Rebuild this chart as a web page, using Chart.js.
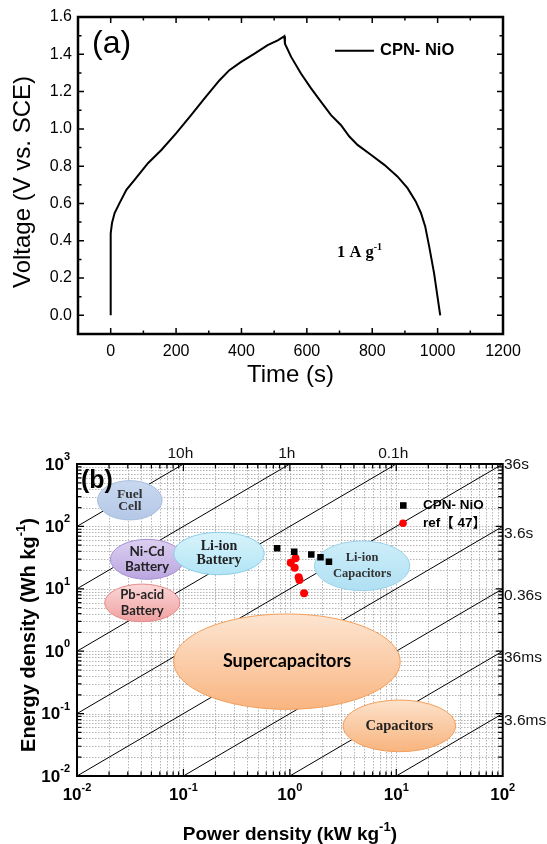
<!DOCTYPE html>
<html>
<head>
<meta charset="utf-8">
<script src="https://cdn.jsdelivr.net/npm/chart.js@4.4.1/dist/chart.umd.min.js"></script>
<style>
  html, body { margin: 0; padding: 0; background: #fff; }
  #wrap { position: relative; width: 547px; height: 844px; overflow: hidden; }
  canvas { position: absolute; left: 0; }
  #chartA { top: 0; }
  #chartB { top: 440px; }
</style>
</head>
<body>
<div id="wrap">
  <canvas id="chartA" width="547" height="400"></canvas>
  <canvas id="chartB" width="547" height="404"></canvas>
</div>
<script>
// (a) charge / discharge curve at 1 A/g
const timeS = [0, 0, 4, 12, 27, 48, 73, 114, 155, 200, 246, 287, 333, 363, 399, 440, 480, 511, 528, 531,
  533, 552, 582, 613, 643, 674, 704, 730, 755, 796, 837, 877, 908, 933, 949, 962, 974, 989, 1008];
const voltage = [0, 0.44, 0.495, 0.549, 0.602, 0.673, 0.727, 0.816, 0.887, 0.976, 1.074, 1.163, 1.261, 1.315, 1.359, 1.404, 1.449, 1.475, 1.493, 1.497,
  1.457, 1.386, 1.297, 1.217, 1.146, 1.074, 1.021, 0.959, 0.914, 0.861, 0.807, 0.745, 0.682, 0.611, 0.549, 0.477, 0.371, 0.228, 0];
const timeTicks = [0, 200, 400, 600, 800, 1000, 1200];
const voltTicks = [0, 0.2, 0.4, 0.6, 0.8, 1.0, 1.2, 1.4, 1.6];

// (b) Ragone plot
const cpnPower = [0.76, 1.10, 1.59, 1.94, 2.33];
const cpnEnergy = [44.6, 39.4, 35.3, 32.0, 27.2];
const refPower = [1.13, 1.02, 1.11, 1.21, 1.23, 1.36];
const refEnergy = [30.8, 26.2, 21.8, 15.3, 13.8, 8.5];
const powerExp = [-2, -1, 0, 1, 2];
const energyExp = [-2, -1, 0, 1, 2, 3];
// constant discharge-time lines (hours) and their labels
const lineHours = [10, 1, 0.1, 0.01, 0.001, 0.0001, 0.00001, 0.000001];
const lineLabels = ['10h', '1h', '0.1h', '36s', '3.6s', '0.36s', '36ms', '3.6ms'];
// device regions: name, power range (kW/kg), energy range (Wh/kg)
const regionNames = [['Fuel', 'Cell'], ['Ni-Cd', 'Battery'], ['Pb-acid', 'Battery'], ['Li-ion', 'Battery'],
  ['Li-ion', 'Capacitors'], ['Supercapacitors'], ['Capacitors']];
const regionPower = [[0.0156, 0.063], [0.0206, 0.1007], [0.0182, 0.0923], [0.0811, 0.575], [1.70, 13.4], [0.081, 10.9], [3.16, 36.2]];
const regionEnergy = [[127, 541], [14.2, 62], [2.97, 11.9], [16.8, 80.4], [9.33, 58.3], [0.117, 3.95], [0.0245, 0.165]];

const SANS = "'Liberation Sans', Arial, sans-serif";
const SERIF = "'Liberation Serif', 'Times New Roman', serif";
const CAL = "Lato, 'Liberation Sans', sans-serif";
const CJK = "'Liberation Sans', 'Noto Sans CJK SC', sans-serif";

// region looks: fill top, fill bottom, stroke, font, line gap
const regionLook = [
  ['#c9d8ef', '#b4c8e7', '#a6bcdf', 'bold 13.5px ' + SERIF, 12.5, '#333'],
  ['#dcd0f1', '#bba6e0', '#a790d3', 'bold 13.5px ' + CAL, 15.5, '#222'],
  ['#fbd8d8', '#f0a0a0', '#e68b8b', 'bold 13px ' + CAL, 15.5, '#222'],
  ['#d8f3fb', '#b2e5f6', '#8ccfe9', 'bold 14px ' + SERIF, 14.5, '#222'],
  ['#cdeef9', '#b0e0f3', '#9bd2ea', 'bold 12.5px ' + SERIF, 16, '#333'],
  ['#fde5d1', '#f9b581', '#f29f5c', 'bold 18px ' + CAL, 0, '#000'],
  ['#fde2cb', '#f8b47e', '#f29f5c', 'bold 14.5px ' + SERIF, 0, '#222']
];

// draw text pieces one after another (for superscripts)
function runs(ctx, x, y, parts, align) {
  let w = 0;
  parts.forEach(p => { ctx.font = p.f; p.w = ctx.measureText(p.t).width; w += p.w; });
  let cx = align === 'center' ? x - w / 2 : align === 'right' ? x - w : x;
  ctx.textAlign = 'left';
  ctx.textBaseline = 'middle';
  parts.forEach(p => { ctx.font = p.f; ctx.fillText(p.t, cx, y + (p.dy || 0)); cx += p.w; });
}

function inwardTicks(ctx, a, xs, ys, len) {
  ctx.beginPath();
  xs.forEach(px => {
    ctx.moveTo(px, a.bottom); ctx.lineTo(px, a.bottom - len);
    ctx.moveTo(px, a.top); ctx.lineTo(px, a.top + len);
  });
  ys.forEach(py => {
    ctx.moveTo(a.left, py); ctx.lineTo(a.left + len, py);
    ctx.moveTo(a.right, py); ctx.lineTo(a.right - len, py);
  });
  ctx.stroke();
}

function mids(arr) {
  const out = [];
  for (let i = 1; i < arr.length; i++) out.push((arr[i] + arr[i - 1]) / 2);
  return out;
}

// ---------- chart (a) ----------
const decorA = {
  id: 'decorA',
  afterDraw(chart) {
    const { ctx, chartArea: a, scales: { x, y } } = chart;
    ctx.save();
    ctx.strokeStyle = '#000';
    ctx.lineWidth = 1.5;
    inwardTicks(ctx, a, timeTicks.map(v => x.getPixelForValue(v)), voltTicks.map(v => y.getPixelForValue(v)), 6);
    inwardTicks(ctx, a, mids(timeTicks).map(v => x.getPixelForValue(v)), mids(voltTicks).map(v => y.getPixelForValue(v)), 3.5);
    ctx.lineWidth = 2.5;
    ctx.strokeRect(a.left, a.top, a.right - a.left, a.bottom - a.top);

    ctx.fillStyle = '#000';
    // axis titles
    runs(ctx, (a.left + a.right) / 2, 375, [{ t: 'Time (s)', f: '24px ' + SANS }], 'center');
    ctx.save();
    ctx.translate(23, 182);
    ctx.rotate(-Math.PI / 2);
    runs(ctx, 0, 0, [{ t: 'Voltage (V vs. SCE)', f: '24px ' + SANS }], 'center');
    ctx.restore();
    // panel tag
    runs(ctx, 92, 44, [{ t: '(a)', f: '32px ' + SANS }], 'left');
    // legend
    ctx.lineWidth = 2;
    ctx.beginPath(); ctx.moveTo(335, 50.7); ctx.lineTo(374, 50.7); ctx.stroke();
    runs(ctx, 380, 50.7, [{ t: chart.data.datasets[0].label, f: 'bold 16.5px ' + SANS }], 'left');
    // current density note
    runs(ctx, 337, 253, [{ t: '1 A g', f: 'bold 16.5px ' + SERIF }, { t: '-1', f: 'bold 10px ' + SERIF, dy: -6 }], 'left');
    ctx.restore();
  }
};

new Chart(document.getElementById('chartA'), {
  type: 'line',
  data: {
    datasets: [{
      label: 'CPN- NiO',
      data: timeS.map((t, i) => ({ x: t, y: voltage[i] })),
      borderColor: '#000',
      borderWidth: 2,
      pointRadius: 0,
      tension: 0,
      fill: false
    }]
  },
  options: {
    responsive: false,
    animation: false,
    layout: { padding: { top: 17, right: 44, left: 0, bottom: 0 } },
    plugins: { legend: { display: false }, tooltip: { enabled: false } },
    scales: {
      x: {
        type: 'linear', min: -100, max: 1200,
        afterBuildTicks: s => { s.ticks = timeTicks.map(v => ({ value: v })); },
        afterFit: s => { s.height = 66; },
        grid: { display: false, drawTicks: false },
        border: { display: false },
        ticks: { font: { family: SANS, size: 16 }, color: '#000', padding: 8, maxRotation: 0, autoSkip: false, callback: v => String(v) }
      },
      y: {
        type: 'linear', min: -0.1, max: 1.6,
        afterBuildTicks: s => { s.ticks = voltTicks.map(v => ({ value: v })); },
        afterFit: s => { s.width = 78; },
        grid: { display: false, drawTicks: false },
        border: { display: false },
        ticks: { font: { family: SANS, size: 16 }, color: '#000', padding: 6, autoSkip: false, callback: v => v.toFixed(1) }
      }
    }
  },
  plugins: [decorA]
});

// ---------- chart (b) ----------
const minorVals = exps => {
  const out = [];
  exps.forEach(e => { for (let k = 1; k <= 9; k++) out.push({ v: k * Math.pow(10, e), major: k === 1 }); });
  return out;
};

const decorB = {
  id: 'decorB',
  beforeDatasetsDraw(chart) {
    const { ctx, chartArea: a, scales: { x, y } } = chart;
    ctx.save();
    ctx.strokeStyle = '#b4b4b4';
    ctx.lineWidth = 1;
    ctx.setLineDash([1.5, 1.5]);
    ctx.beginPath();
    minorVals(powerExp).forEach(m => {
      if (m.v <= 0.01 || m.v >= 100) return;
      const px = Math.round(x.getPixelForValue(m.v)) + 0.5;
      ctx.moveTo(px, a.top); ctx.lineTo(px, a.bottom);
    });
    minorVals(energyExp).forEach(m => {
      if (m.v <= 0.01 || m.v >= 1000) return;
      const py = Math.round(y.getPixelForValue(m.v)) + 0.5;
      ctx.moveTo(a.left, py); ctx.lineTo(a.right, py);
    });
    ctx.stroke();
    ctx.restore();
  },
  afterDatasetDraw(chart, args) {
    if (args.index !== 2) return;
    const { ctx, scales: { x, y } } = chart;
    ctx.save();
    regionNames.forEach((names, i) => {
      const [c1, c2, c3, font, gap, tc] = regionLook[i];
      const x0 = x.getPixelForValue(regionPower[i][0]), x1 = x.getPixelForValue(regionPower[i][1]);
      const y0 = y.getPixelForValue(regionEnergy[i][1]), y1 = y.getPixelForValue(regionEnergy[i][0]);
      const cx = (x0 + x1) / 2, cy = (y0 + y1) / 2;
      const g = ctx.createLinearGradient(0, y0, 0, y1);
      g.addColorStop(0, c1);
      g.addColorStop(1, c2);
      ctx.beginPath();
      ctx.ellipse(cx, cy, (x1 - x0) / 2, (y1 - y0) / 2, 0, 0, Math.PI * 2);
      ctx.fillStyle = g;
      ctx.fill();
      ctx.strokeStyle = c3;
      ctx.lineWidth = 1;
      ctx.stroke();
      ctx.fillStyle = tc;
      names.forEach((n, k) => {
        runs(ctx, cx, cy + (k - (names.length - 1) / 2) * gap, [{ t: n, f: font }], 'center');
      });
    });
    ctx.restore();
  },
  afterDraw(chart) {
    const { ctx, chartArea: a, scales: { x, y } } = chart;
    ctx.save();
    ctx.strokeStyle = '#000';
    ctx.lineWidth = 1.2;
    const px = minorVals(powerExp).filter(m => m.v > 0.01 && m.v < 100);
    const py = minorVals(energyExp).filter(m => m.v > 0.01 && m.v < 1000);
    inwardTicks(ctx, a, px.filter(m => m.major).map(m => x.getPixelForValue(m.v)), py.filter(m => m.major).map(m => y.getPixelForValue(m.v)), 7);
    inwardTicks(ctx, a, px.filter(m => !m.major).map(m => x.getPixelForValue(m.v)), py.filter(m => !m.major).map(m => y.getPixelForValue(m.v)), 4.5);
    ctx.lineWidth = 2;
    ctx.strokeRect(a.left, a.top, a.right - a.left, a.bottom - a.top);

    ctx.fillStyle = '#000';
    // decade labels
    powerExp.forEach(e => {
      runs(ctx, x.getPixelForValue(Math.pow(10, e)), 355,
        [{ t: '10', f: 'bold 17px ' + SANS }, { t: String(e), f: 'bold 11px ' + SANS, dy: -7 }], 'center');
    });
    energyExp.forEach(e => {
      runs(ctx, 70, y.getPixelForValue(Math.pow(10, e)) + 1,
        [{ t: '10', f: 'bold 17px ' + SANS }, { t: String(e), f: 'bold 11px ' + SANS, dy: -8 }], 'right');
    });
    // time-line labels: top edge or right edge
    ctx.fillStyle = '#111';
    lineHours.forEach((h, i) => {
      const pTop = 1 / h;
      if (pTop < 100) {
        runs(ctx, x.getPixelForValue(pTop) - 3, 14, [{ t: lineLabels[i], f: '15.5px ' + SANS }], 'center');
      } else {
        const yy = y.getPixelForValue(1e5 * h);
        runs(ctx, 504, yy + (yy - a.top < 2 ? 1 : 7), [{ t: lineLabels[i], f: '15.5px ' + SANS }], 'left');
      }
    });
    // axis titles
    ctx.fillStyle = '#000';
    runs(ctx, (a.left + a.right) / 2, 395, [
      { t: 'Power density (kW kg', f: 'bold 19px ' + SANS },
      { t: '-1', f: 'bold 13px ' + SANS, dy: -8 },
      { t: ')', f: 'bold 19px ' + SANS }
    ], 'center');
    ctx.save();
    ctx.translate(29, 195);
    ctx.rotate(-Math.PI / 2);
    runs(ctx, 0, 0, [
      { t: 'Energy density (Wh kg', f: 'bold 20px ' + SANS },
      { t: '-1', f: 'bold 13px ' + SANS, dy: -8 },
      { t: ')', f: 'bold 20px ' + SANS }
    ], 'center');
    ctx.restore();
    // panel tag
    runs(ctx, 81, 41, [{ t: '(b)', f: 'bold 25px ' + SANS }], 'left');
    // legend
    const ds = chart.data.datasets;
    ctx.fillStyle = ds[0].backgroundColor;
    ctx.fillRect(403.3 - 3.3, 65.5 - 3.3, 6.6, 6.6);
    ctx.fillStyle = ds[1].backgroundColor;
    ctx.beginPath(); ctx.arc(403, 83.3, 3.8, 0, Math.PI * 2); ctx.fill();
    ctx.fillStyle = '#000';
    runs(ctx, 423, 65.5, [{ t: ds[0].label, f: 'bold 13.5px ' + CJK }], 'left');
    runs(ctx, 423, 83.3, [{ t: ds[1].label, f: 'bold 13.5px ' + CJK }], 'left');
    ctx.restore();
  }
};

const timeLineSets = lineHours.map((h, i) => ({
  label: lineLabels[i],
  data: [{ x: 0.01, y: 1000 * h * 0.01 }, { x: 100, y: 1000 * h * 100 }],
  showLine: true,
  borderColor: '#000',
  borderWidth: 1,
  pointRadius: 0
}));

new Chart(document.getElementById('chartB'), {
  type: 'scatter',
  data: {
    datasets: [
      {
        label: 'CPN- NiO',
        data: cpnPower.map((p, i) => ({ x: p, y: cpnEnergy[i] })),
        pointStyle: 'rect', pointRadius: 4.6,
        backgroundColor: '#000', borderColor: '#000', borderWidth: 0
      },
      {
        label: 'ref【 47】',
        data: refPower.map((p, i) => ({ x: p, y: refEnergy[i] })),
        pointStyle: 'circle', pointRadius: 4,
        backgroundColor: '#ff0000', borderColor: '#ff0000', borderWidth: 0
      },
      ...timeLineSets
    ]
  },
  options: {
    responsive: false,
    animation: false,
    layout: { padding: { top: 24, right: 44.3, left: 0, bottom: 0 } },
    plugins: { legend: { display: false }, tooltip: { enabled: false } },
    scales: {
      x: {
        type: 'logarithmic', min: 0.01, max: 100,
        afterFit: s => { s.height = 68; },
        grid: { display: false, drawTicks: false },
        border: { display: false },
        ticks: { display: false }
      },
      y: {
        type: 'logarithmic', min: 0.01, max: 1000,
        afterFit: s => { s.width = 77; },
        grid: { display: false, drawTicks: false },
        border: { display: false },
        ticks: { display: false }
      }
    }
  },
  plugins: [decorB]
});
</script>
</body>
</html>
